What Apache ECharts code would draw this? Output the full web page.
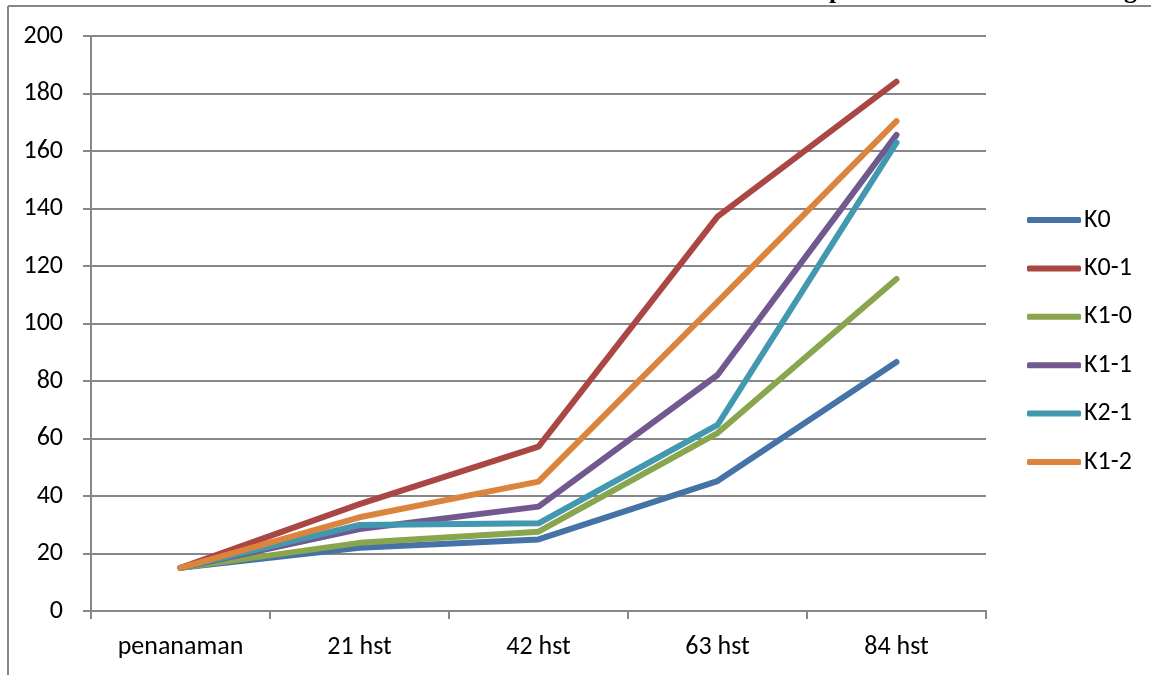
<!DOCTYPE html>
<html>
<head>
<meta charset="utf-8">
<script src="https://cdn.jsdelivr.net/npm/echarts@6/dist/echarts.min.js"></script>
<style>
html,body{margin:0;padding:0;background:#fff;}
#chart{width:1151px;height:675px;}
</style>
</head>
<body>
<div id="chart"></div>
<script>
var categories = ['penanaman', '21 hst', '42 hst', '63 hst', '84 hst'];
var seriesNames = ['K0', 'K0-1', 'K1-0', 'K1-1', 'K2-1', 'K1-2'];
var K0   = [15, 22.0, 24.9, 45.2, 86.6];
var K0_1 = [15, 37.2, 57.2, 137.2, 184.1];
var K1_0 = [15, 23.7, 27.6, 61.9, 115.5];
var K1_1 = [15, 28.5, 36.3, 82.1, 165.6];
var K2_1 = [15, 29.9, 30.5, 64.7, 162.9];
var K1_2 = [15, 32.6, 45.0, 107.5, 170.4];
var yTicks = [0, 20, 40, 60, 80, 100, 120, 140, 160, 180, 200];

var seriesData = [K0, K0_1, K1_0, K1_1, K2_1, K1_2];
var colors = ['#4572A7', '#AA4643', '#89A54E', '#71588F', '#4198AF', '#DB843D'];
var FONT = 'Carlito, Lato, "Open Sans", sans-serif';
var GRAY = '#878787';

var chart = echarts.init(document.getElementById('chart'), null, {renderer: 'canvas'});
chart.setOption({
  animation: false,
  color: colors,
  grid: {left: 91, right: 165, top: 36, bottom: 64, containLabel: false},
  xAxis: {
    type: 'category',
    data: categories,
    boundaryGap: true,
    axisLine: {show: true, lineStyle: {color: GRAY, width: 2}},
    axisTick: {show: true, length: 8, lineStyle: {color: GRAY, width: 2}},
    axisLabel: {color: '#000', fontSize: 26, fontFamily: FONT, margin: 23, interval: 0},
    splitLine: {show: false}
  },
  yAxis: {
    type: 'value',
    min: yTicks[0],
    max: yTicks[yTicks.length - 1],
    interval: yTicks[1] - yTicks[0],
    axisLine: {show: true, lineStyle: {color: GRAY, width: 2}},
    axisTick: {show: true, length: 8, lineStyle: {color: GRAY, width: 2}},
    axisLabel: {color: '#000', fontSize: 26, fontFamily: FONT, margin: 28},
    splitLine: {show: true, lineStyle: {color: GRAY, width: 2}}
  },
  legend: {
    orient: 'vertical',
    left: 1027,
    top: 207,
    padding: 0,
    itemWidth: 54,
    itemHeight: 6,
    itemGap: 22.4,
    icon: 'roundRect',
    textStyle: {color: '#000', fontSize: 26, fontFamily: FONT, lineHeight: 20, padding: [0, 0, 0, -2]},
    data: seriesNames
  },
  series: seriesNames.map(function (name, i) {
    return {
      name: name,
      type: 'line',
      data: seriesData[i],
      showSymbol: false,
      symbol: 'none',
      lineStyle: {width: 6, color: colors[i], cap: 'round', join: 'round'},
      itemStyle: {color: colors[i]}
    };
  }),
  graphic: [
    {type: 'line', silent: true, shape: {x1: 8, y1: 6, x2: 1151, y2: 6}, style: {stroke: GRAY, lineWidth: 2}},
    {type: 'line', silent: true, shape: {x1: 8, y1: 6, x2: 8, y2: 675}, style: {stroke: GRAY, lineWidth: 2}},
    {type: 'text', silent: true, left: 829, top: -22, style: {text: 'p', font: 'bold 26px "Liberation Serif", serif', fill: '#000'}},
    {type: 'text', silent: true, left: 1124, top: -22, style: {text: 'g', font: 'bold 26px "Liberation Serif", serif', fill: '#000'}}
  ]
});
</script>
</body>
</html>
